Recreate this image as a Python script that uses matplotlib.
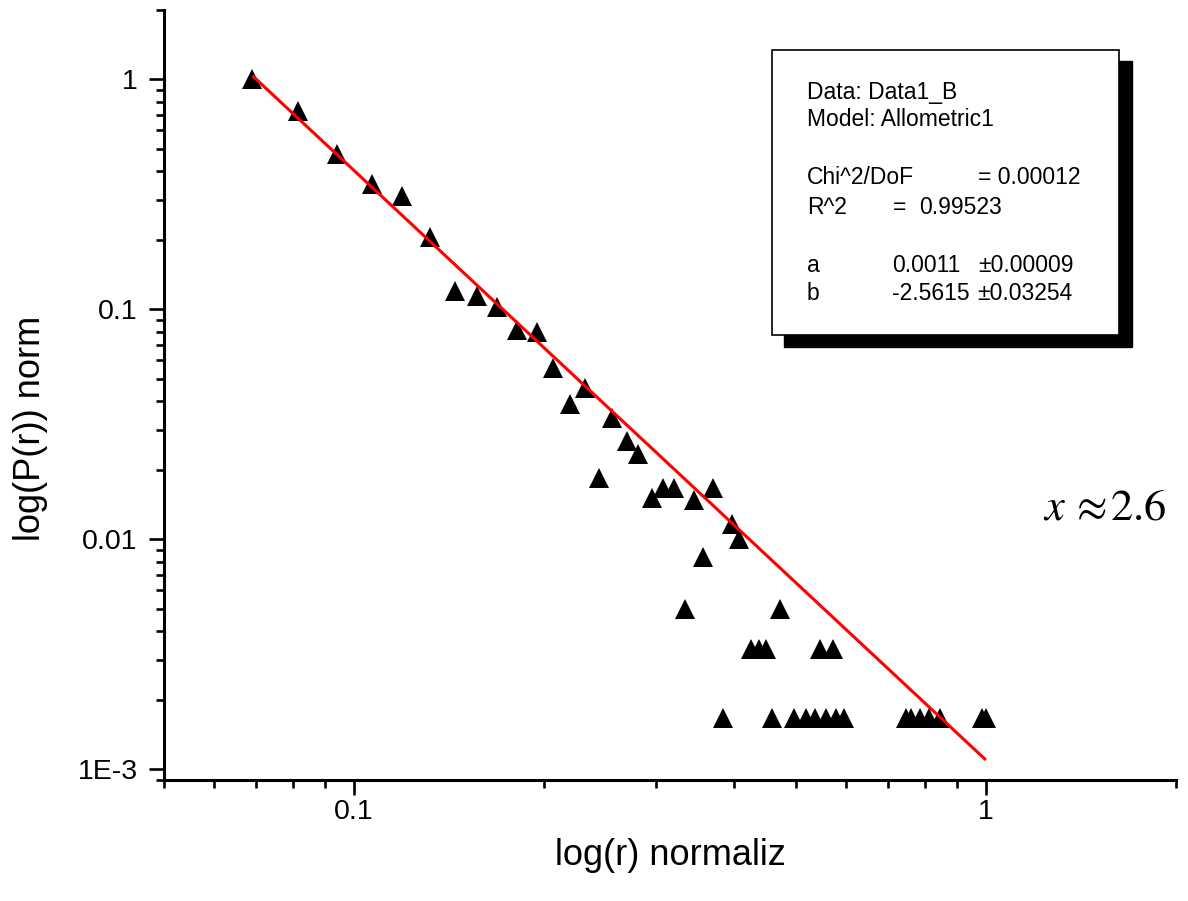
import matplotlib
matplotlib.use("Agg")
import matplotlib.pyplot as plt
from matplotlib.patches import Rectangle
import numpy as np

# ---- data ----
r_norm = [0.069, 0.0815, 0.094, 0.1068, 0.119, 0.132, 0.1445, 0.1566, 0.1685,
          0.1813, 0.195, 0.2067, 0.2198, 0.2316, 0.2444, 0.2564, 0.27, 0.2818,
          0.2957, 0.3078, 0.3205, 0.3334, 0.3446, 0.357, 0.3693, 0.3835, 0.3958,
          0.4074, 0.4252, 0.437, 0.4494, 0.459, 0.4716, 0.497, 0.5196, 0.5358,
          0.5455, 0.5592, 0.5728, 0.58, 0.5955, 0.7468, 0.7606, 0.786, 0.813,
          0.8475, 0.985, 1.0]
p_norm = [1.0, 0.726, 0.472, 0.35, 0.31, 0.206, 0.12, 0.114, 0.102,
          0.081, 0.080, 0.0554, 0.0386, 0.0453, 0.0184, 0.0336, 0.0267, 0.0234,
          0.0151, 0.0168, 0.0168, 0.0050, 0.0149, 0.0084, 0.0168, 0.00167, 0.0117,
          0.0100, 0.00333, 0.00333, 0.00333, 0.00167, 0.0050, 0.00167, 0.00167, 0.00167,
          0.00333, 0.00167, 0.00333, 0.00167, 0.00167, 0.00167, 0.00167, 0.00167, 0.00167,
          0.00167, 0.00167, 0.00167]

# Allometric1 fit  y = a * x^b
fit_a = 0.0011
fit_b = -2.5615
fit_x_range = [0.069, 1.0]

x_major = [0.1, 1]
x_major_labels = ["0.1", "1"]
x_minor = [0.05, 0.06, 0.07, 0.08, 0.09, 0.2, 0.3, 0.4, 0.5, 0.6, 0.7, 0.8, 0.9, 2]
y_major = [1e-3, 1e-2, 0.1, 1]
y_major_labels = ["1E-3", "0.01", "0.1", "1"]
y_minor = [0.0009, 0.002, 0.003, 0.004, 0.005, 0.006, 0.007, 0.008, 0.009,
           0.02, 0.03, 0.04, 0.05, 0.06, 0.07, 0.08, 0.09,
           0.2, 0.3, 0.4, 0.5, 0.6, 0.7, 0.8, 0.9, 2]

box_lines = [
    ("Data: Data1_B", None, None),
    ("Model: Allometric1", None, None),
    ("Chi^2/DoF", "= 0.00012", None),
    ("R^2", "=", "0.99523"),
    ("a", "0.0011", "\u00b10.00009"),
    ("b", "-2.5615", "\u00b10.03254"),
]

plt.rcParams['font.family'] = ['Liberation Sans', 'DejaVu Sans']
plt.rcParams['mathtext.fontset'] = 'stix'

W, H = 1188, 901
fig = plt.figure(figsize=(W / 100, H / 100), dpi=100)
fig.patch.set_facecolor('white')

def fx(px):
    return px / W

def fy(py):
    return 1 - py / H

ax = fig.add_axes([fx(164), fy(780), fx(1176) - fx(164), (780 - 10) / H])
ax.set_xscale('log')
ax.set_yscale('log')
ax.set_xlim(0.05, 2)
ax.set_ylim(0.0009, 2)

# fit line
fx_arr = np.array(fit_x_range)
ax.plot(fx_arr, fit_a * fx_arr ** fit_b, color='#ff0000', lw=2.2, zorder=3, solid_capstyle='butt')
# data
ax.plot(r_norm, p_norm, linestyle='none', marker='^', markersize=14,
        color='black', markeredgewidth=0, zorder=2, clip_on=False)

for s in ['top', 'right']:
    ax.spines[s].set_visible(False)
for s in ['left', 'bottom']:
    ax.spines[s].set_linewidth(2.2)

ax.xaxis.set_major_locator(matplotlib.ticker.FixedLocator(x_major))
ax.xaxis.set_minor_locator(matplotlib.ticker.FixedLocator(x_minor))
ax.yaxis.set_major_locator(matplotlib.ticker.FixedLocator(y_major))
ax.yaxis.set_minor_locator(matplotlib.ticker.FixedLocator(y_minor))
ax.xaxis.set_major_formatter(matplotlib.ticker.FixedFormatter(x_major_labels))
ax.yaxis.set_major_formatter(matplotlib.ticker.FixedFormatter(y_major_labels))
ax.xaxis.set_minor_formatter(matplotlib.ticker.NullFormatter())
ax.yaxis.set_minor_formatter(matplotlib.ticker.NullFormatter())

ax.tick_params(which='major', length=11, width=1.9, labelsize=20.5, direction='out')
ax.tick_params(axis='x', which='major', pad=3)
ax.tick_params(axis='y', which='major', pad=8)
ax.tick_params(which='minor', length=5.5, width=1.9, direction='out')

ax.set_xlabel("log(r) normaliz", fontsize=26, labelpad=9)
ax.set_ylabel("log(P(r)) norm", fontsize=26)
ax.yaxis.set_label_coords(-0.115, 0.457)

# fit-results box with shadow (figure pixel layout)
shadow = Rectangle((fx(784), fy(347)), fx(1132) - fx(784), fy(61) - fy(347),
                   transform=fig.transFigure, facecolor='black', edgecolor='black', zorder=5)
box = Rectangle((fx(772), fy(335)), fx(1119) - fx(772), fy(50) - fy(335),
                transform=fig.transFigure, facecolor='white', edgecolor='black',
                linewidth=1.2, zorder=6)
fig.patches.extend([shadow, box])

line_y = [92, 120, 178, 207, 265, 293]
col_x = {
    2: (807, 978, None),
    3: (807, 893, 919),
    4: (807, 892, 978),
    5: (807, 892, 977),
}
for i, (t0, t1, t2) in enumerate(box_lines):
    xs = col_x.get(i, (807, None, None))
    fig.text(fx(xs[0]), fy(line_y[i]), t0, fontsize=16.5, va='center', ha='left', zorder=7)
    if t1 is not None:
        fig.text(fx(xs[1]), fy(line_y[i]), t1, fontsize=16.5, va='center', ha='left', zorder=7)
    if t2 is not None:
        fig.text(fx(xs[2]), fy(line_y[i]), t2, fontsize=16.5, va='center', ha='left', zorder=7)

fig.text(fx(1043), fy(520), r"$x$", fontsize=32, ha='left', va='baseline')
fig.text(fx(1070), fy(520), r"$\approx$", fontsize=32, ha='left', va='baseline')
fig.text(fx(1110), fy(520), r"$\mathrm{2.6}$", fontsize=32, ha='left', va='baseline')

fig.savefig("out.png", dpi=100, facecolor='white')
